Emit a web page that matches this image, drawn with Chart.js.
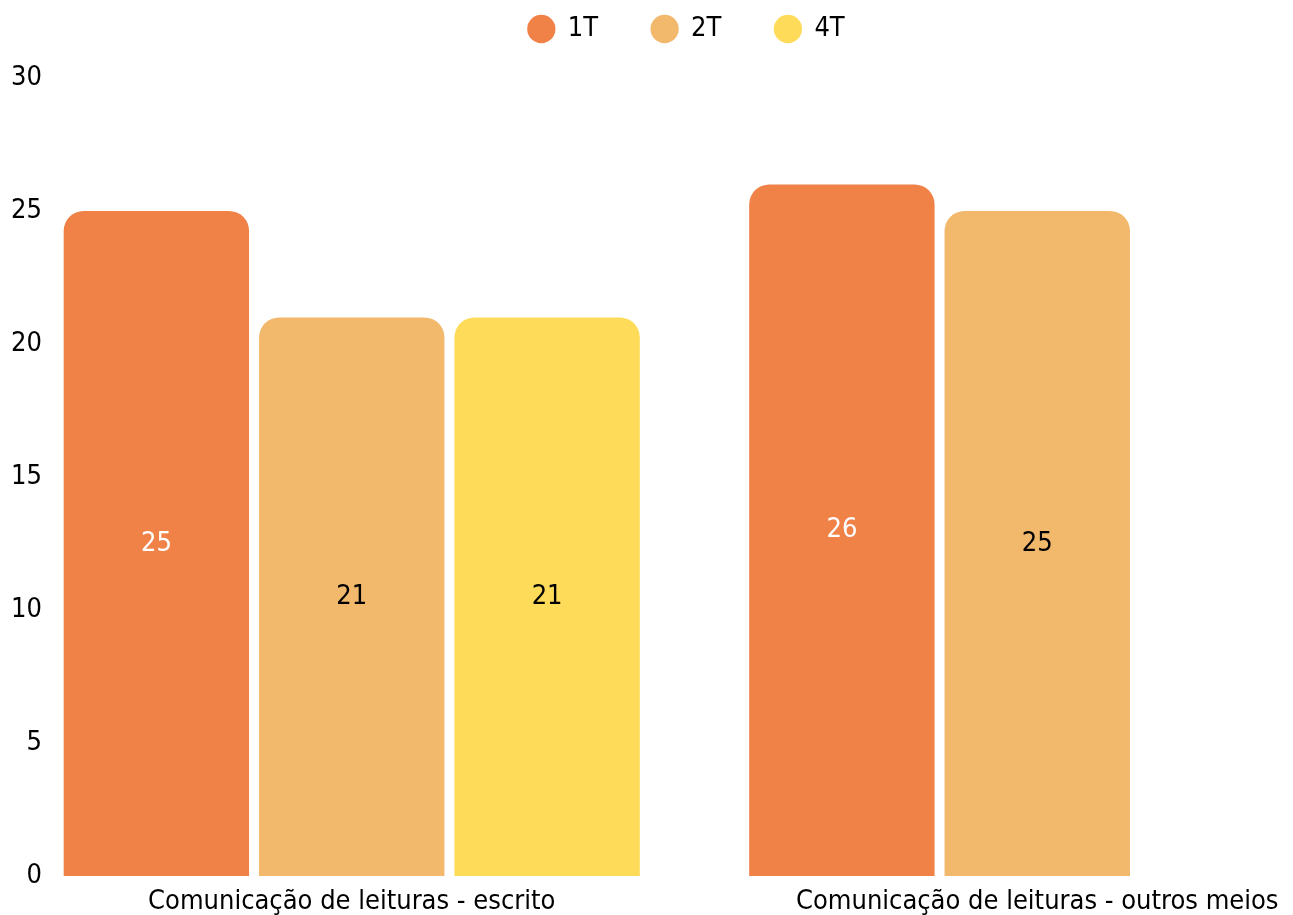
<!DOCTYPE html>
<html>
<head>
<meta charset="utf-8">
<title>Comunicação de leituras</title>
<script src="https://cdn.jsdelivr.net/npm/chart.js@4.4.0/dist/chart.umd.min.js"></script>
<style>
  html, body { margin: 0; padding: 0; background: #fff; overflow: hidden; }
  #wrap { width: 1380px; height: 915px; }
</style>
</head>
<body>
<div id="wrap"><canvas id="chart"></canvas></div>
<script>
// data
const categories = ["Comunicação de leituras - escrito", "Comunicação de leituras - outros meios"];
const seriesNames = ["1T", "2T", "4T"];
const values1T = [25, 26];
const values2T = [21, 25];
const values4T = [21, null];
const yTickValues = [0, 5, 10, 15, 20, 25, 30];

// styles
const FONT = "'DejaVu Sans Condensed', 'DejaVu Sans', sans-serif";
const barColors = ["#F08147", "#F2B86C", "#FEDC5A"];
const valueColors = ["#ffffff", "#000000", "#000000"];

// draws the value in the middle of each bar
const barValueLabels = {
  id: "barValueLabels",
  afterDatasetsDraw(chart) {
    const ctx = chart.ctx;
    ctx.save();
    ctx.font = "27px " + FONT;
    ctx.textAlign = "center";
    ctx.textBaseline = "middle";
    chart.data.datasets.forEach((ds, i) => {
      const meta = chart.getDatasetMeta(i);
      meta.data.forEach((bar, j) => {
        const v = ds.data[j];
        if (v == null) return;
        const p = bar.getProps(["x", "y", "base"], true);
        ctx.fillStyle = valueColors[i];
        ctx.fillText(String(v), p.x, (p.y + p.base) / 2);
      });
    });
    ctx.restore();
  }
};

const seriesValues = [values1T, values2T, values4T];

new Chart(document.getElementById("chart"), {
  type: "bar",
  data: {
    labels: categories,
    datasets: seriesNames.map((name, i) => ({
      label: name,
      data: seriesValues[i],
      backgroundColor: barColors[i],
      borderRadius: 20,
      borderSkipped: "start",
      categoryPercentage: 0.855,
      barPercentage: 0.949
    }))
  },
  options: {
    responsive: true,
    maintainAspectRatio: false,
    animation: false,
    layout: { padding: { top: -38, left: -7, right: 0, bottom: -12 } },
    plugins: {
      legend: {
        position: "top",
        labels: {
          usePointStyle: true,
          pointStyle: "circle",
          boxWidth: 26,
          boxHeight: 20,
          padding: 53.5,
          color: "#000",
          font: { family: FONT, size: 27 }
        }
      },
      // empty subtitle used as a gap between the legend and the plot
      subtitle: {
        display: true,
        text: "",
        weight: 500,
        padding: 0,
        font: { size: 25.5, lineHeight: 1 }
      },
      tooltip: { enabled: false }
    },
    scales: {
      x: {
        grid: { display: false, drawTicks: false },
        border: { display: false },
        ticks: {
          color: "#000",
          padding: 12,
          maxRotation: 0,
          autoSkip: false,
          font: { family: FONT, size: 27, lineHeight: 1 }
        }
      },
      y: {
        min: 0,
        max: 30,
        grid: { display: false, drawTicks: false },
        border: { display: false },
        afterBuildTicks: (scale) => {
          scale.ticks = yTickValues.map(v => ({ value: v }));
        },
        afterFit: (scale) => {
          scale.width = 16;
        },
        ticks: {
          mirror: true,
          crossAlign: "far",
          padding: 2,
          color: "#000",
          font: { family: FONT, size: 27 }
        }
      }
    }
  },
  plugins: [barValueLabels]
});
</script>
</body>
</html>
